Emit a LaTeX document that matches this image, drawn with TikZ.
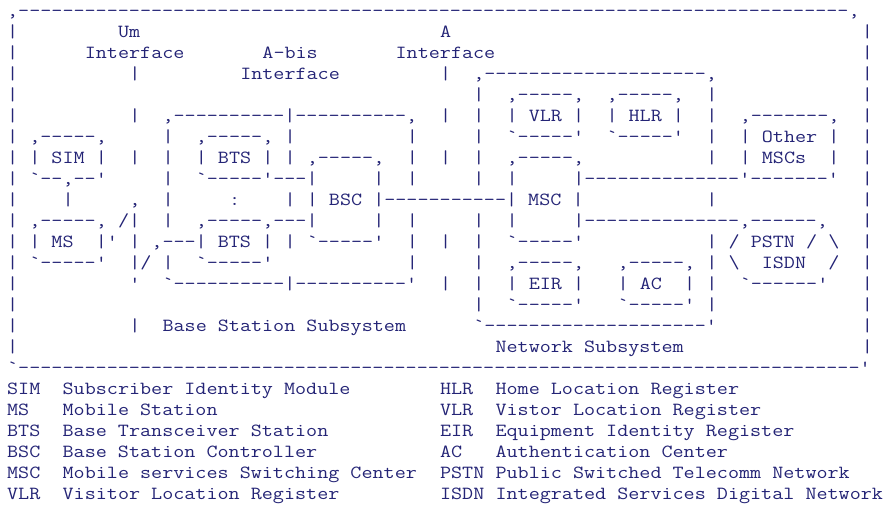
\documentclass[tikz,border=0pt]{standalone}
\usepackage{fontspec}
\setmonofont{Latin Modern Mono}[FakeStretch=1.162]
\definecolor{ink}{RGB}{36,36,118}
\ExplSyntaxOn
\cs_new:Npn \rdash #1 {\prg_replicate:nn{#1}{-}}
\ExplSyntaxOff
\newcommand\ch[3]{\node[asc] (r#2c#1) at ({7.15pt+#1*11.1pt},{505pt-17pt-#2*21pt}) {#3};}
\tikzset{asc/.style={anchor=base west,inner sep=0pt,outer sep=0pt,text=ink,
  font=\ttfamily\fontsize{18.5}{21}\selectfont}}
\begin{document}
\begin{tikzpicture}
\useasboundingbox[fill=white] (0,0) rectangle (887pt,505pt);
% row 0
\ch{0}{0}{,\rdash{75},}
% row 1
\ch{0}{1}{|}\ch{10}{1}{Um}\ch{39}{1}{A}\ch{77}{1}{|}
% row 2
\ch{0}{2}{|}\ch{7}{2}{Interface}\ch{23}{2}{A-bis}\ch{35}{2}{Interface}\ch{77}{2}{|}
% row 3
\ch{0}{3}{|}\ch{11}{3}{|}\ch{21}{3}{Interface}\ch{39}{3}{|}\ch{42}{3}{,\rdash{20},}\ch{77}{3}{|}
% row 4
\ch{0}{4}{|}\ch{42}{4}{|}\ch{45}{4}{,\rdash{5},}\ch{54}{4}{,\rdash{5},}\ch{63}{4}{|}\ch{77}{4}{|}
% row 5
\ch{0}{5}{|}\ch{11}{5}{|}\ch{14}{5}{,\rdash{10}|\rdash{10},}\ch{39}{5}{|}\ch{42}{5}{|}
\ch{45}{5}{|~VLR~|}\ch{54}{5}{|~HLR~|}\ch{63}{5}{|}\ch{66}{5}{,\rdash{7},}\ch{77}{5}{|}
% row 6
\ch{0}{6}{|}\ch{2}{6}{,\rdash{5},}\ch{14}{6}{|}\ch{17}{6}{,\rdash{5},}\ch{25}{6}{|}\ch{36}{6}{|}
\ch{42}{6}{|}\ch{45}{6}{`\rdash{5}'}\ch{54}{6}{`\rdash{5}'}\ch{63}{6}{|}\ch{66}{6}{|~Other~|}\ch{77}{6}{|}
% row 7
\ch{0}{7}{|}\ch{2}{7}{|~SIM~|}\ch{11}{7}{|}\ch{14}{7}{|}\ch{17}{7}{|~BTS~|}\ch{25}{7}{|}
\ch{27}{7}{,\rdash{5},}\ch{36}{7}{|}\ch{39}{7}{|}\ch{42}{7}{|}\ch{45}{7}{,\rdash{5},}\ch{63}{7}{|}
\ch{66}{7}{|~MSCs~~|}\ch{77}{7}{|}
% row 8
\ch{0}{8}{|}\ch{2}{8}{`\rdash{2},\rdash{2}'}\ch{14}{8}{|}\ch{17}{8}{`\rdash{5}'\rdash{3}|}\ch{33}{8}{|}
\ch{36}{8}{|}\ch{42}{8}{|}\ch{45}{8}{|}\ch{51}{8}{|\rdash{14}'\rdash{7}'}\ch{77}{8}{|}
% row 9
\ch{0}{9}{|}\ch{5}{9}{|}\ch{11}{9}{,}\ch{14}{9}{|}\ch{20}{9}{:}\ch{25}{9}{|}
\ch{27}{9}{|~BSC~|\rdash{11}|~MSC~|}\ch{63}{9}{|}\ch{77}{9}{|}
% row 10
\ch{0}{10}{|}\ch{2}{10}{,\rdash{5},}\ch{10}{10}{/|}\ch{14}{10}{|}\ch{17}{10}{,\rdash{5},\rdash{3}|}
\ch{33}{10}{|}\ch{36}{10}{|}\ch{42}{10}{|}\ch{45}{10}{|}\ch{51}{10}{|\rdash{14},\rdash{6},}\ch{77}{10}{|}
% row 11
\ch{0}{11}{|}\ch{2}{11}{|~MS~~|'}\ch{11}{11}{|}\ch{13}{11}{,\rdash{3}|~BTS~|}\ch{25}{11}{|}
\ch{27}{11}{`\rdash{5}'}\ch{36}{11}{|}\ch{39}{11}{|}\ch{42}{11}{|}\ch{45}{11}{`\rdash{5}'}\ch{63}{11}{|}
\ch{65}{11}{/~PSTN~/~\textbackslash}\ch{77}{11}{|}
% row 12
\ch{0}{12}{|}\ch{2}{12}{`\rdash{5}'}\ch{11}{12}{|/}\ch{14}{12}{|}\ch{17}{12}{`\rdash{5}'}\ch{36}{12}{|}
\ch{42}{12}{|}\ch{45}{12}{,\rdash{5},}\ch{55}{12}{,\rdash{5},}\ch{63}{12}{|}
\ch{65}{12}{\textbackslash~~ISDN~~/}\ch{77}{12}{|}
% row 13
\ch{0}{13}{|}\ch{11}{13}{'}\ch{14}{13}{`\rdash{10}|\rdash{10}'}\ch{39}{13}{|}\ch{42}{13}{|}
\ch{45}{13}{|~EIR~|}\ch{55}{13}{|~AC~~|}\ch{63}{13}{|}\ch{66}{13}{`\rdash{6}'}\ch{77}{13}{|}
% row 14
\ch{0}{14}{|}\ch{42}{14}{|}\ch{45}{14}{`\rdash{5}'}\ch{55}{14}{`\rdash{5}'}\ch{63}{14}{|}\ch{77}{14}{|}
% row 15
\ch{0}{15}{|}\ch{11}{15}{|}\ch{14}{15}{Base~Station~Subsystem}\ch{42}{15}{`\rdash{20}'}\ch{77}{15}{|}
% row 16
\ch{0}{16}{|}\ch{44}{16}{Network~Subsystem}\ch{77}{16}{|}
% row 17
\ch{0}{17}{`\rdash{76}'}
% legend
\ch{0}{18}{SIM}\ch{5}{18}{Subscriber~Identity~Module}\ch{39}{18}{HLR}\ch{44}{18}{Home~Location~Register}
\ch{0}{19}{MS}\ch{5}{19}{Mobile~Station}\ch{39}{19}{VLR}\ch{44}{19}{Vistor~Location~Register}
\ch{0}{20}{BTS}\ch{5}{20}{Base~Transceiver~Station}\ch{39}{20}{EIR}\ch{44}{20}{Equipment~Identity~Register}
\ch{0}{21}{BSC}\ch{5}{21}{Base~Station~Controller}\ch{39}{21}{AC}\ch{44}{21}{Authentication~Center}
\ch{0}{22}{MSC}\ch{5}{22}{Mobile~services~Switching~Center}\ch{39}{22}{PSTN}\ch{44}{22}{Public~Switched~Telecomm~Network}
\ch{0}{23}{VLR}\ch{5}{23}{Visitor~Location~Register}\ch{39}{23}{ISDN}\ch{44}{23}{Integrated~Services~Digital~Network}
\end{tikzpicture}
\end{document}
